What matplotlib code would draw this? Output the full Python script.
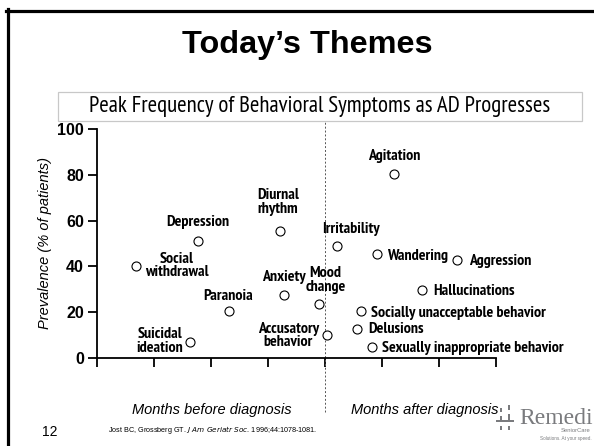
import matplotlib
matplotlib.use("Agg")
import matplotlib.pyplot as plt
from matplotlib.lines import Line2D
from matplotlib.patches import Rectangle
from matplotlib import font_manager

# symptom data: (months relative to diagnosis, prevalence %)
symptoms = ["Social\nwithdrawal", "Depression", "Diurnal\nrhythm", "Anxiety", "Paranoia",
            "Suicidal\nideation", "Accusatory\nbehavior", "Mood\nchange", "Irritability",
            "Agitation", "Wandering", "Aggression", "Hallucinations",
            "Socially unacceptable behavior", "Delusions", "Sexually inappropriate behavior"]
months = [-3.32, -2.23, -0.79, -0.72, -1.69, -2.36, 0.03, -0.10, 0.21,
          1.21, 0.91, 2.31, 1.70, 0.63, 0.56, 0.82]
prevalence = [40, 51, 55.5, 27.5, 20.5, 7, 10, 23.5, 49,
              80.5, 45.5, 43, 29.5, 20.5, 12.5, 5]
yticks = [0, 20, 40, 60, 80, 100]
xticks = [-4, -3, -2, -1, 0, 1, 2, 3]

# label placement (offset in pixels from marker, horizontal alignment)
label_pos = [(9, 1, "left"), (0, 19, "center"), (-2, 29, "center"), (0, 18.5, "center"),
             (-1, 15, "center"), (-7, 1, "right"), (-8, -0.5, "right"), (6, 24, "center"),
             (-14.5, 16.5, "left"), (0, 17.5, "center"), (10, -2, "left"), (12, -1, "left"),
             (11, -1, "left"), (10, -1.5, "left"), (11.5, 0, "left"), (10.5, -1, "left")]

# pick a narrow sans font (Arial Narrow look) if one is installed
fonts = font_manager.fontManager.ttflist
narrow = "Liberation Sans"
for cand in ["Liberation Sans Narrow", "Arial Narrow", "PT Sans Narrow", "Roboto Condensed",
             "Open Sans Condensed", "Archivo Narrow", "Barlow Semi Condensed"]:
    if any(f.name == cand for f in fonts):
        narrow = cand
        break

plt.rcParams["font.family"] = ["Liberation Sans", "DejaVu Sans"]

W, H = 594, 446
fig = plt.figure(figsize=(W / 100, H / 100), dpi=100)
renderer = fig.canvas.get_renderer()


def fx(px):
    return px / W


def fy(py):
    return 1 - py / H


def fit_size(text, width_px, **kw):
    t = fig.text(0, 0, text, fontsize=10, **kw)
    w = t.get_window_extent(renderer).width
    t.remove()
    return 10 * width_px / w


# slide frame
fig.add_artist(Line2D([fx(7.5), fx(7.5)], [fy(9), fy(446)], color="black", lw=2.3))
fig.add_artist(Line2D([fx(6), fx(594)], [fy(10.5), fy(10.5)], color="black", lw=2.3))

fig.text(fx(307), fy(45), "Today\u2019s Themes", ha="center", va="center",
         fontsize=23.3, fontweight="bold")

subtitle = "Peak Frequency of Behavioral Symptoms as AD Progresses"
fig.add_artist(Rectangle((fx(58), fy(121)), fx(582) - fx(58), fy(92) - fy(121),
                         transform=fig.transFigure, fill=False, ec="#c8c8c8", lw=0.9))
fig.text(fx(320), fy(106.5), subtitle, ha="center", va="center",
         fontsize=fit_size(subtitle, 460, family=narrow), family=narrow)

ax = fig.add_axes([fx(97), fy(358), fx(496) - fx(97), fy(129) - fy(358)])
ax.set_xlim(-4, 3)
ax.set_ylim(0, 100)
for s in ["top", "right"]:
    ax.spines[s].set_visible(False)
for s in ["left", "bottom"]:
    ax.spines[s].set_linewidth(1.3)
ax.set_xticks(xticks)
ax.set_xticklabels([])
ax.set_yticks(yticks)
ax.set_yticklabels([str(v) for v in yticks], fontsize=11.5, fontweight="bold")
ax.tick_params(direction="out", length=6.5, width=1.3, pad=3)
ax.patch.set_alpha(0)

ax.plot([0, 0], [-23.5, 103.5], ls=(0, (2, 2)), color="#555555", lw=0.7, clip_on=False)

ax.plot(months, prevalence, "o", ms=6.5, mfc="white", mec="black", mew=0.8, clip_on=False,
        zorder=3)
lab_size = fit_size("Sexually inappropriate behavior", 183, family=narrow, fontweight="bold")
for name, x, y, (dx, dy, ha) in zip(symptoms, months, prevalence, label_pos):
    ax.annotate(name, (x, y), xytext=(dx, dy), textcoords="offset pixels", ha=ha,
                va="center", multialignment="center", fontsize=lab_size,
                fontweight="bold", family=narrow, linespacing=0.95)

fig.text(fx(45), fy(243), "Prevalence (% of patients)", rotation=90, ha="center",
         va="center", fontsize=10.5, style="italic")
fig.text(fx(212), fy(410), "Months before diagnosis", ha="center", va="center",
         fontsize=10.5, style="italic")
fig.text(fx(425), fy(410), "Months after diagnosis", ha="center", va="center",
         fontsize=10.5, style="italic")

fig.text(fx(108), fy(430), "Jost BC, Grossberg GT. $\\mathit{J\\ Am\\ Geriatr\\ Soc}$. "
         "1996;44:1078-1081.", ha="left", va="center", fontsize=5.2)

fig.text(fx(50), fy(432), "12", ha="center", va="center", fontsize=10)

# logo
grey = "#7a7b7e"
for px, py, w, h in [(500, 408, 2, 4), (500, 416, 2, 6), (500, 426, 2, 4),
                     (508, 405, 2, 5), (508, 414, 2, 8), (508, 426, 2, 4),
                     (496, 420, 18, 1.6)]:
    fig.add_artist(Rectangle((fx(px), fy(py + h)), w / W, h / H,
                             transform=fig.transFigure, color=grey, lw=0))
fig.text(fx(593), fy(419), "Remedi", ha="right", va="center", fontsize=17,
         family="Liberation Serif", color=grey)
fig.text(fx(590), fy(431), "SeniorCare", ha="right", va="center", fontsize=4.2, color=grey)
fig.text(fx(592), fy(438.5), "Solutions. At your speed.", ha="right", va="center",
         fontsize=3.3, color=grey)

fig.savefig("out.png", dpi=100)
